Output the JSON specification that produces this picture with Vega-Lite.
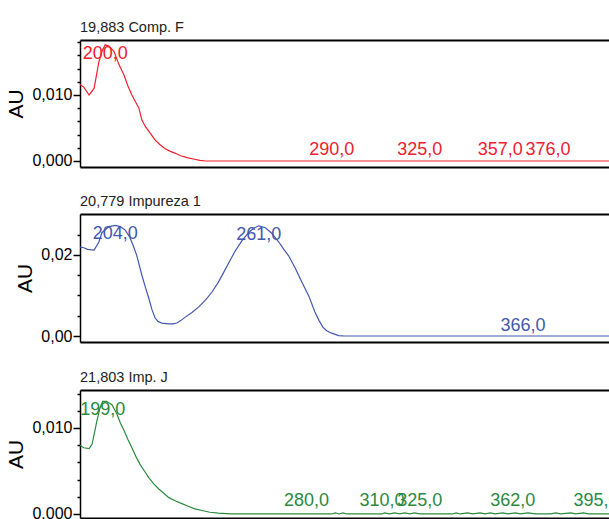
{
  "$schema": "https://vega.github.io/schema/vega-lite/v6.json",
  "padding": {"left": 5, "top": 19, "right": 0, "bottom": 0},
  "background": "white",
  "spacing": 24,
  "config": {
    "locale": {"number": {"decimal": ",", "thousands": ".", "grouping": [3], "currency": ["", ""]}},
    "view": {"stroke": null},
    "font": "Liberation Sans",
    "title": {"anchor": "start", "fontSize": 14.5, "font": "Liberation Sans", "fontWeight": "normal", "color": "#222", "offset": 5, "frame": "group"},
    "axis": {"grid": false, "domainColor": "#000", "tickColor": "#000", "labelColor": "#000", "titleColor": "#000"},
    "axisY": {"labelFont": "Liberation Sans", "labelFontSize": 16, "labelPadding": 1, "tickWidth": 1.5, "domainWidth": 1.5, "titleFont": "Liberation Sans", "titleFontSize": 21, "titleFontWeight": "normal", "titlePadding": 5, "labelOverlap": false}
  },
  "datasets": {
    "specF": [
      {"nm": 190, "au": 0.0116}, {"nm": 191.5, "au": 0.0112}, {"nm": 193.6, "au": 0.0100}, {"nm": 195.6, "au": 0.0110},
      {"nm": 197.5, "au": 0.0150}, {"nm": 198.7, "au": 0.0166}, {"nm": 200, "au": 0.0176}, {"nm": 201.5, "au": 0.0174},
      {"nm": 203.5, "au": 0.0166}, {"nm": 205.5, "au": 0.0146}, {"nm": 207.5, "au": 0.0130}, {"nm": 209, "au": 0.0114},
      {"nm": 210.6, "au": 0.0100}, {"nm": 212, "au": 0.0090}, {"nm": 213.4, "au": 0.0080}, {"nm": 214.6, "au": 0.0062},
      {"nm": 216, "au": 0.0052}, {"nm": 217.4, "au": 0.0045}, {"nm": 219.8, "au": 0.0032}, {"nm": 221.7, "au": 0.0025},
      {"nm": 223.7, "au": 0.0019}, {"nm": 225.7, "au": 0.0015}, {"nm": 227.7, "au": 0.0012}, {"nm": 230, "au": 0.0008},
      {"nm": 232.5, "au": 0.0005}, {"nm": 235, "au": 0.0003}, {"nm": 237.6, "au": 0.0001}, {"nm": 240, "au": 0.0},
      {"nm": 401, "au": 0.0}
    ],
    "labF": [
      {"nm": 200, "au": 0.0176, "kind": "peak"},
      {"nm": 290, "au": 0, "kind": "base"},
      {"nm": 325, "au": 0, "kind": "base"},
      {"nm": 357, "au": 0, "kind": "base"},
      {"nm": 376, "au": 0, "kind": "base"}
    ],
    "specI": [
      {"nm": 190, "au": 0.0220}, {"nm": 191.5, "au": 0.0218}, {"nm": 193, "au": 0.0214}, {"nm": 195.6, "au": 0.0212},
      {"nm": 197.5, "au": 0.0232}, {"nm": 198.7, "au": 0.0255}, {"nm": 201.5, "au": 0.0270}, {"nm": 204, "au": 0.0273},
      {"nm": 206, "au": 0.0270}, {"nm": 207.9, "au": 0.0262}, {"nm": 209.8, "au": 0.0244}, {"nm": 211.2, "au": 0.0222},
      {"nm": 212.6, "au": 0.0198}, {"nm": 214.6, "au": 0.0150}, {"nm": 216, "au": 0.0120}, {"nm": 217.4, "au": 0.0092},
      {"nm": 218.6, "au": 0.0065}, {"nm": 219.8, "au": 0.0045}, {"nm": 221, "au": 0.0036}, {"nm": 222.5, "au": 0.0032},
      {"nm": 225.3, "au": 0.0030}, {"nm": 227, "au": 0.0030}, {"nm": 228.5, "au": 0.0032}, {"nm": 230, "au": 0.0038},
      {"nm": 231.7, "au": 0.0046}, {"nm": 234.5, "au": 0.0058}, {"nm": 237.2, "au": 0.0072}, {"nm": 240, "au": 0.0090},
      {"nm": 242.4, "au": 0.0108}, {"nm": 245, "au": 0.0133}, {"nm": 247.1, "au": 0.0157}, {"nm": 249.5, "au": 0.0185},
      {"nm": 251.5, "au": 0.0208}, {"nm": 254.3, "au": 0.0235}, {"nm": 257, "au": 0.0255}, {"nm": 259, "au": 0.0266},
      {"nm": 261, "au": 0.0272}, {"nm": 263.5, "au": 0.0268}, {"nm": 266, "au": 0.0255}, {"nm": 269, "au": 0.0232},
      {"nm": 271, "au": 0.0214}, {"nm": 272.9, "au": 0.0198}, {"nm": 275.5, "au": 0.0168}, {"nm": 278.1, "au": 0.0134},
      {"nm": 280.9, "au": 0.0099}, {"nm": 283.3, "au": 0.0060}, {"nm": 285, "au": 0.0038}, {"nm": 286.5, "au": 0.0022},
      {"nm": 288, "au": 0.0013}, {"nm": 290, "au": 0.0007}, {"nm": 292.8, "au": 0.0001}, {"nm": 295, "au": 0.0},
      {"nm": 401, "au": 0.0}
    ],
    "labI": [
      {"nm": 204, "au": 0.0273, "kind": "peak"},
      {"nm": 261, "au": 0.0272, "kind": "peak"},
      {"nm": 366, "au": 0, "kind": "base"}
    ],
    "specJ": [
      {"nm": 190, "au": 0.0080}, {"nm": 191.5, "au": 0.0077}, {"nm": 193.6, "au": 0.0076}, {"nm": 194.8, "au": 0.0081},
      {"nm": 196.7, "au": 0.0108}, {"nm": 197.9, "au": 0.0123}, {"nm": 199, "au": 0.0131}, {"nm": 200.5, "au": 0.0131},
      {"nm": 202.7, "au": 0.0127}, {"nm": 204.7, "au": 0.0116}, {"nm": 206, "au": 0.0106}, {"nm": 207.5, "au": 0.0097},
      {"nm": 209, "au": 0.0087}, {"nm": 210.6, "au": 0.0077}, {"nm": 212.2, "au": 0.0067}, {"nm": 213.8, "au": 0.0058},
      {"nm": 215.6, "au": 0.0050}, {"nm": 217.4, "au": 0.0042}, {"nm": 219.3, "au": 0.0035}, {"nm": 221.3, "au": 0.0029},
      {"nm": 223.3, "au": 0.0024}, {"nm": 225.3, "au": 0.0019}, {"nm": 228, "au": 0.0015}, {"nm": 230.5, "au": 0.0012},
      {"nm": 233, "au": 0.0009}, {"nm": 235.6, "au": 0.0006}, {"nm": 238.5, "au": 0.0004}, {"nm": 241.6, "au": 0.0002},
      {"nm": 245, "au": 0.0001}, {"nm": 250, "au": 0.0}, {"nm": 290, "au": 0.0}, {"nm": 291.5, "au": 0.00012},
      {"nm": 293, "au": 0.0}, {"nm": 294.5, "au": 0.00012}, {"nm": 296, "au": 0.0}, {"nm": 310, "au": 0.0},
      {"nm": 311, "au": 0.00012}, {"nm": 313, "au": 0.0}, {"nm": 315, "au": 0.00012}, {"nm": 317, "au": 0.0},
      {"nm": 319, "au": 0.00012}, {"nm": 321, "au": 0.0}, {"nm": 323, "au": 0.00012}, {"nm": 325, "au": 0.0},
      {"nm": 338, "au": 0.0}, {"nm": 339.5, "au": 0.00012}, {"nm": 341, "au": 0.0}, {"nm": 344, "au": 0.00012},
      {"nm": 346, "au": 0.0}, {"nm": 349, "au": 0.00012}, {"nm": 351, "au": 0.0}, {"nm": 353, "au": 0.00012},
      {"nm": 355, "au": 0.0}, {"nm": 358, "au": 0.00012}, {"nm": 360, "au": 0.0}, {"nm": 363, "au": 0.00012},
      {"nm": 365, "au": 0.0}, {"nm": 368, "au": 0.00012}, {"nm": 371, "au": 0.0}, {"nm": 377, "au": 0.0},
      {"nm": 379, "au": 0.00012}, {"nm": 381, "au": 0.0}, {"nm": 385, "au": 0.00012}, {"nm": 387, "au": 0.0},
      {"nm": 390, "au": 0.00012}, {"nm": 392, "au": 0.0}, {"nm": 401, "au": 0.0}
    ],
    "labJ": [
      {"nm": 199, "au": 0.0131, "kind": "peak"},
      {"nm": 280, "au": 0, "kind": "base"},
      {"nm": 310, "au": 0, "kind": "base"},
      {"nm": 325, "au": 0, "kind": "base"},
      {"nm": 362, "au": 0, "kind": "base"},
      {"nm": 395, "au": 0, "kind": "base"}
    ]
  },
  "vconcat": [
    {
      "title": "19,883 Comp. F",
      "width": 531, "height": 127,
      "layer": [
        {
          "data": {"name": "specF"},
          "mark": {"type": "line", "color": "#f0202e", "strokeWidth": 1.2, "clip": true},
          "encoding": {
            "x": {"field": "nm", "type": "quantitative", "scale": {"domain": [190, 401], "nice": false, "zero": false},
                  "axis": {"orient": "bottom", "labels": false, "ticks": false, "title": null, "domainWidth": 2}},
            "y": {"field": "au", "type": "quantitative", "scale": {"domain": [-0.00091, 0.01833], "nice": false, "zero": false},
                  "axis": {"orient": "left", "title": "AU", "values": [0, 0.01], "format": ".3f", "tickSize": 7}}
          }
        },
        {
          "data": {"name": "labF"},
          "transform": [{"filter": "datum.kind === 'peak'"}],
          "mark": {"type": "text", "color": "#f0202e", "fontSize": 18, "baseline": "top", "align": "center", "clip": true},
          "encoding": {
            "x": {"field": "nm", "type": "quantitative", "axis": {"orient": "top", "labels": false, "ticks": false, "title": null, "domainWidth": 2}},
            "y": {"field": "au", "type": "quantitative", "axis": {"orient": "left", "values": [0.002, 0.004, 0.006, 0.008, 0.012, 0.014, 0.016, 0.018], "labels": false, "domain": false, "title": null, "tickSize": 3}},
            "text": {"field": "nm", "type": "quantitative", "format": ".1f"}
          }
        },
        {
          "data": {"name": "labF"},
          "transform": [{"filter": "datum.kind === 'base'"}],
          "mark": {"type": "text", "color": "#f0202e", "fontSize": 18, "baseline": "alphabetic", "align": "center", "dy": -6, "clip": true},
          "encoding": {
            "x": {"field": "nm", "type": "quantitative", "axis": null},
            "y": {"field": "au", "type": "quantitative", "axis": null},
            "text": {"field": "nm", "type": "quantitative", "format": ".1f"}
          }
        }
      ],
      "resolve": {"axis": {"x": "independent", "y": "independent"}}
    },
    {
      "title": "20,779 Impureza 1",
      "width": 531, "height": 128,
      "layer": [
        {
          "data": {"name": "specI"},
          "mark": {"type": "line", "color": "#4358b0", "strokeWidth": 1.2, "clip": true},
          "encoding": {
            "x": {"field": "nm", "type": "quantitative", "scale": {"domain": [190, 401], "nice": false, "zero": false},
                  "axis": {"orient": "bottom", "labels": false, "ticks": false, "title": null, "domainWidth": 2}},
            "y": {"field": "au", "type": "quantitative", "scale": {"domain": [-0.00148, 0.03012], "nice": false, "zero": false},
                  "axis": {"orient": "left", "title": "AU", "values": [0, 0.02], "format": ".2f", "tickSize": 7}}
          }
        },
        {
          "data": {"name": "labI"},
          "transform": [{"filter": "datum.kind === 'peak'"}],
          "mark": {"type": "text", "color": "#4358b0", "fontSize": 18, "baseline": "top", "align": "center", "clip": true},
          "encoding": {
            "x": {"field": "nm", "type": "quantitative", "axis": {"orient": "top", "labels": false, "ticks": false, "title": null, "domainWidth": 2}},
            "y": {"field": "au", "type": "quantitative", "axis": {"orient": "left", "values": [0.005, 0.01, 0.015, 0.025], "labels": false, "domain": false, "title": null, "tickSize": 3}},
            "text": {"field": "nm", "type": "quantitative", "format": ".1f"}
          }
        },
        {
          "data": {"name": "labI"},
          "transform": [{"filter": "datum.kind === 'base'"}],
          "mark": {"type": "text", "color": "#4358b0", "fontSize": 18, "baseline": "alphabetic", "align": "center", "dy": -5, "clip": true},
          "encoding": {
            "x": {"field": "nm", "type": "quantitative", "axis": null},
            "y": {"field": "au", "type": "quantitative", "axis": null},
            "text": {"field": "nm", "type": "quantitative", "format": ".1f"}
          }
        }
      ],
      "resolve": {"axis": {"x": "independent", "y": "independent"}}
    },
    {
      "title": "21,803 Imp. J",
      "width": 531, "height": 128,
      "layer": [
        {
          "data": {"name": "specJ"},
          "mark": {"type": "line", "color": "#2a8a3e", "strokeWidth": 1.2, "clip": true},
          "encoding": {
            "x": {"field": "nm", "type": "quantitative", "scale": {"domain": [190, 401], "nice": false, "zero": false},
                  "axis": {"orient": "bottom", "labels": false, "ticks": false, "title": null, "domainWidth": 2}},
            "y": {"field": "au", "type": "quantitative", "scale": {"domain": [-0.00047, 0.01442], "nice": false, "zero": false},
                  "axis": {"orient": "left", "title": "AU", "values": [0, 0.01], "format": ".3f", "tickSize": 7}}
          }
        },
        {
          "data": {"name": "labJ"},
          "transform": [{"filter": "datum.kind === 'peak'"}],
          "mark": {"type": "text", "color": "#2a8a3e", "fontSize": 18, "baseline": "top", "align": "center", "clip": true},
          "encoding": {
            "x": {"field": "nm", "type": "quantitative", "axis": {"orient": "top", "labels": false, "ticks": false, "title": null, "domainWidth": 2}},
            "y": {"field": "au", "type": "quantitative", "axis": {"orient": "left", "values": [0.002, 0.004, 0.006, 0.008, 0.012, 0.014], "labels": false, "domain": false, "title": null, "tickSize": 3}},
            "text": {"field": "nm", "type": "quantitative", "format": ".1f"}
          }
        },
        {
          "data": {"name": "labJ"},
          "transform": [{"filter": "datum.kind === 'base'"}],
          "mark": {"type": "text", "color": "#2a8a3e", "fontSize": 18, "baseline": "alphabetic", "align": "center", "dy": -8, "clip": true},
          "encoding": {
            "x": {"field": "nm", "type": "quantitative", "axis": null},
            "y": {"field": "au", "type": "quantitative", "axis": null},
            "text": {"field": "nm", "type": "quantitative", "format": ".1f"}
          }
        }
      ],
      "resolve": {"axis": {"x": "independent", "y": "independent"}}
    }
  ]
}
